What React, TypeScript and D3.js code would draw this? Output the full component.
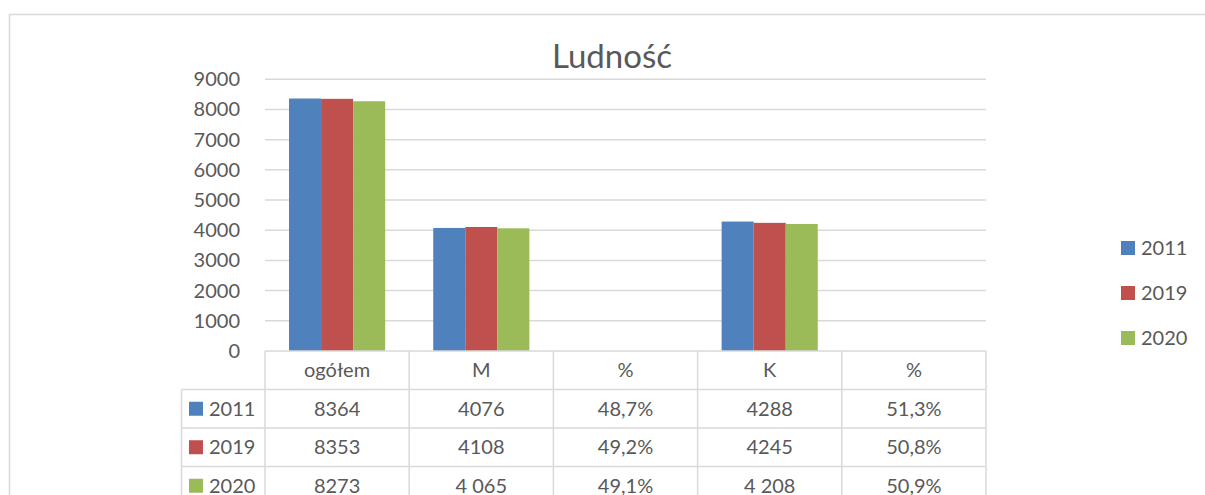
import React, { useRef, useEffect } from 'react';
import * as d3 from 'd3';

const categories = ['ogółem', 'M', '%', 'K', '%'];
const years = ['2011', '2019', '2020'];
const colors = ['#4F81BD', '#C0504D', '#9BBB59'];
// plotted values (percent columns are fractions, so they draw as ~0)
const values2011 = [8364, 4076, 0.487, 4288, 0.513];
const values2019 = [8353, 4108, 0.492, 4245, 0.508];
const values2020 = [8273, 4065, 0.491, 4208, 0.509];
// what the data table prints
const labels2011 = ['8364', '4076', '48,7%', '4288', '51,3%'];
const labels2019 = ['8353', '4108', '49,2%', '4245', '50,8%'];
const labels2020 = ['8273', '4 065', '49,1%', '4 208', '50,9%'];
const yTicks = [0, 1000, 2000, 3000, 4000, 5000, 6000, 7000, 8000, 9000];

const series = [values2011, values2019, values2020];
const tableRows = [labels2011, labels2019, labels2020];

const W = 1205;
const H = 495;
const FONT = 'Lato, "Open Sans", sans-serif';
const TEXT = '#595959';
const GRID = '#D9D9D9';

export default function App() {
  const svgRef = useRef<SVGSVGElement>(null);

  useEffect(() => {
    if (!svgRef.current) return;
    const svg = d3.select(svgRef.current);
    svg.selectAll('*').remove();

    const left = 265;
    const right = 986;
    const top = 79.3;
    const bottom = 351;
    const rowH = 38.5;
    const tableLeft = 181.5;

    const x = d3.scaleBand<string>().domain(categories.map((c, i) => c + i)).range([left, right]);
    const xs = d3.scaleBand<string>().domain(years).range([0, x.bandwidth()]).paddingOuter(0.75);
    const y = d3.scaleLinear().domain([0, 9000]).range([bottom, top]);

    // outer chart border
    svg.append('rect')
      .attr('x', 9.5).attr('y', 14.5).attr('width', 1400).attr('height', 700)
      .attr('fill', 'none').attr('stroke', GRID).attr('stroke-width', 1.5);

    // title
    svg.append('text')
      .attr('x', 612).attr('y', 68)
      .attr('text-anchor', 'middle')
      .style('font-family', FONT).style('font-size', '33px').style('fill', TEXT)
      .text('Ludność');

    // gridlines + tick labels
    yTicks.forEach((t) => {
      if (t > 0) {
        svg.append('line')
          .attr('x1', left).attr('x2', right).attr('y1', y(t)).attr('y2', y(t))
          .style('stroke', GRID).style('stroke-width', 1.5);
      }
      svg.append('text')
        .attr('x', 240).attr('y', y(t) + 7)
        .attr('text-anchor', 'end')
        .style('font-family', FONT).style('font-size', '20px').style('fill', TEXT)
        .text(t);
    });

    // bars
    series.forEach((vals, si) => {
      svg.append('g').selectAll('rect')
        .data(vals)
        .join('rect')
        .attr('x', (d, i) => (x(categories[i] + i) as number) + (xs(years[si]) as number))
        .attr('width', xs.bandwidth())
        .attr('y', (d) => y(d))
        .attr('height', (d) => bottom - y(d))
        .attr('fill', colors[si]);
    });

    // data table
    const tableBottom = bottom + rowH * 4;
    const g = svg.append('g').style('stroke', GRID).style('stroke-width', 1.5);
    g.append('line').attr('x1', left).attr('x2', right).attr('y1', bottom).attr('y2', bottom);
    for (let r = 1; r <= 4; r++) {
      g.append('line').attr('x1', tableLeft).attr('x2', right)
        .attr('y1', bottom + rowH * r).attr('y2', bottom + rowH * r);
    }
    g.append('line').attr('x1', tableLeft).attr('x2', tableLeft).attr('y1', bottom + rowH).attr('y2', tableBottom);
    categories.forEach((c, i) => {
      const cx = x(c + i) as number;
      g.append('line').attr('x1', cx).attr('x2', cx).attr('y1', bottom).attr('y2', tableBottom);
    });
    g.append('line').attr('x1', right).attr('x2', right).attr('y1', bottom).attr('y2', tableBottom);

    const cellText = (tx: number, ty: number, s: string, anchor = 'middle') =>
      svg.append('text')
        .attr('x', tx).attr('y', ty)
        .attr('text-anchor', anchor)
        .style('font-family', FONT).style('font-size', '20px').style('fill', TEXT)
        .text(s);

    categories.forEach((c, i) => {
      cellText((x(c + i) as number) + x.bandwidth() / 2, bottom + rowH / 2 + 7, c);
    });
    tableRows.forEach((row, ri) => {
      const cy = bottom + rowH * (ri + 1) + rowH / 2;
      svg.append('rect')
        .attr('x', 189).attr('y', cy - 7).attr('width', 14).attr('height', 14)
        .attr('fill', colors[ri]);
      cellText(209, cy + 7, years[ri], 'start');
      row.forEach((s, i) => {
        cellText((x(categories[i] + i) as number) + x.bandwidth() / 2, cy + 7, s);
      });
    });

    // legend
    years.forEach((yr, i) => {
      const cy = 248 + i * 45;
      svg.append('rect')
        .attr('x', 1121).attr('y', cy - 7).attr('width', 14).attr('height', 14)
        .attr('fill', colors[i]);
      svg.append('text')
        .attr('x', 1141).attr('y', cy + 7)
        .style('font-family', FONT).style('font-size', '20px').style('fill', TEXT)
        .text(yr);
    });
  }, []);

  return (
    <div style={{ position: 'absolute', left: 0, top: 0, width: W, height: H, background: '#fff' }}>
      <svg ref={svgRef} width={W} height={H} style={{ display: 'block' }} />
    </div>
  );
}
